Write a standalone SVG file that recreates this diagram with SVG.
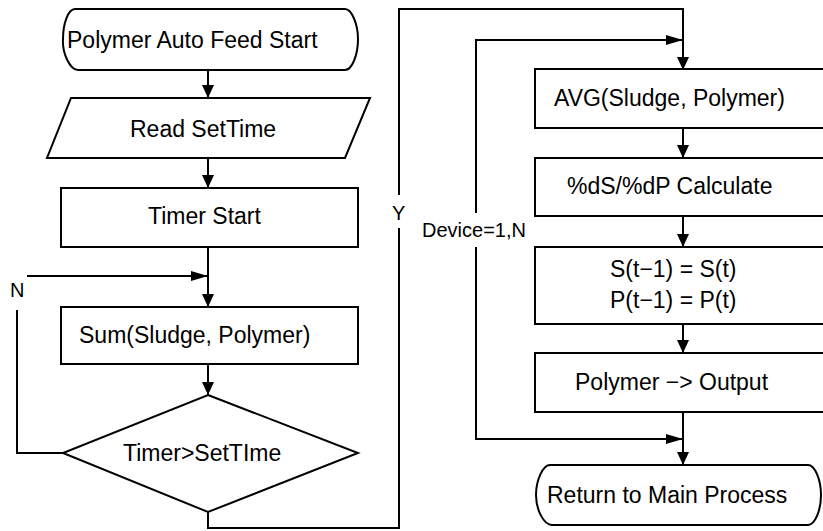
<svg xmlns="http://www.w3.org/2000/svg" width="823" height="531" viewBox="0 0 823 531">
  <defs>
    <style>
      .shape { fill: #ffffff; stroke: #000000; stroke-width: 2; }
      .line { fill: none; stroke: #000000; stroke-width: 2; }
      .label { font-family: "Liberation Sans", Arial, sans-serif; font-size: 23px; fill: #000000; }
      .small { font-family: "Liberation Sans", Arial, sans-serif; font-size: 20px; fill: #000000; }
    </style>
    <!-- arrowhead for vertical flow lines -->
    <marker id="arrowV" markerUnits="userSpaceOnUse" markerWidth="14" markerHeight="14" refX="13" refY="6" orient="auto">
      <path d="M0,0 L13,6 L0,12 Z" fill="#000000"/>
    </marker>
    <!-- longer arrowhead for the horizontal loop-back lines -->
    <marker id="arrowH" markerUnits="userSpaceOnUse" markerWidth="18" markerHeight="12" refX="17" refY="5" orient="auto">
      <path d="M0,0 L17,5 L0,10 Z" fill="#000000"/>
    </marker>
  </defs>
  <rect width="823" height="531" fill="#ffffff"/>

  <!-- connectors -->
  <g id="connectors">
    <path class="line" d="M208,70 V98" marker-end="url(#arrowV)"/>
    <path class="line" d="M208,158 V188" marker-end="url(#arrowV)"/>
    <path class="line" d="M208,247 V307" marker-end="url(#arrowV)"/>
    <path class="line" d="M208,364 V395" marker-end="url(#arrowV)"/>
    <!-- N branch back to the sum step -->
    <path class="line" d="M63,453 H17 V310"/>
    <path class="line" d="M27,276 H208" marker-end="url(#arrowH)"/>
    <!-- Y branch to the right column -->
    <path class="line" d="M208,512 V528 H399 V228"/>
    <path class="line" d="M399,195 V9 H683 V70" marker-end="url(#arrowV)"/>
    <!-- right column -->
    <path class="line" d="M683,128 V158" marker-end="url(#arrowV)"/>
    <path class="line" d="M683,216 V247" marker-end="url(#arrowV)"/>
    <path class="line" d="M683,324 V353" marker-end="url(#arrowV)"/>
    <path class="line" d="M683,412 V465" marker-end="url(#arrowV)"/>
    <!-- Device=1,N loop -->
    <path class="line" d="M476,213 V40 H683" marker-end="url(#arrowH)"/>
    <path class="line" d="M476,247 V439 H683" marker-end="url(#arrowH)"/>
    <text class="small" x="10" y="297">N</text>
    <text class="small" x="392" y="220">Y</text>
    <text class="small" x="422" y="237">Device=1,N</text>
  </g>

  <g id="start">
    <path class="shape" d="M75,9 H345 C352,9 358,25 358,39 C358,55 352,70 345,70 H78 C70,70 62,53 63,39 C63,24 68,9 75,9 Z"/>
    <text class="label" x="67" y="48">Polymer Auto Feed Start</text>
  </g>

  <g id="read-settime">
    <polygon class="shape" points="71,98 370,98 345,158 47,158"/>
    <text class="label" x="130" y="137">Read SetTime</text>
  </g>

  <g id="timer-start">
    <rect class="shape" x="61" y="188" width="297" height="59"/>
    <text class="label" x="148" y="224">Timer Start</text>
  </g>

  <g id="sum">
    <rect class="shape" x="61" y="307" width="297" height="57"/>
    <text class="label" x="79" y="343">Sum(Sludge, Polymer)</text>
  </g>

  <g id="timer-check">
    <polygon class="shape" points="208,395 358,453 208,512 63,453"/>
    <text class="label" x="123" y="461">Timer&gt;SetTIme</text>
  </g>

  <g id="avg">
    <rect class="shape" x="535" y="69" width="300" height="59"/>
    <text class="label" x="554" y="106">AVG(Sludge, Polymer)</text>
  </g>

  <g id="calculate">
    <rect class="shape" x="535" y="158" width="300" height="58"/>
    <text class="label" x="567" y="194">%dS/%dP Calculate</text>
  </g>

  <g id="shift">
    <rect class="shape" x="535" y="247" width="300" height="77"/>
    <text class="label" x="610" y="277">S(t−1) = S(t)</text>
    <text class="label" x="610" y="308">P(t−1) = P(t)</text>
  </g>

  <g id="output">
    <rect class="shape" x="535" y="353" width="300" height="59"/>
    <text class="label" x="575" y="390">Polymer −&gt; Output</text>
  </g>

  <g id="return">
    <path class="shape" d="M550,465 H808 C815,465 821,480 821,495 C821,510 815,525 808,525 H552 C544,525 536,510 536,495 C536,480 543,465 550,465 Z"/>
    <text class="label" x="547" y="503">Return to Main Process</text>
  </g>
</svg>
